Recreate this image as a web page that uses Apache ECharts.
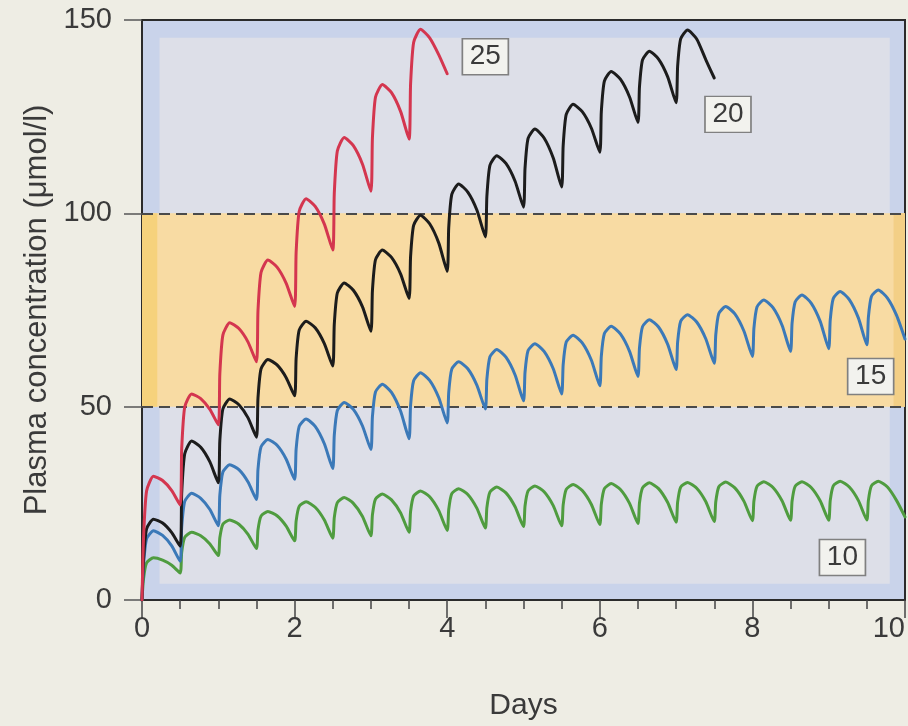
<!DOCTYPE html>
<html>
<head>
<meta charset="utf-8">
<script src="https://cdn.jsdelivr.net/npm/echarts@6/dist/echarts.min.js"></script>
<style>
  html, body { margin: 0; padding: 0; background: #eeede4; }
  #chart { width: 908px; height: 726px; }
</style>
</head>
<body>
<div id="chart"></div>
<script>
// dosing every 12 h; each row = one dosing interval
// at times dose + sampleOffsets: trough, steep rise, shoulder, peak, early fall, mid fall
const sampleOffsets = [0, 0.02, 0.06, 0.15, 0.27, 0.39];
const doseStep = 0.5;

const green = [
  [0, 5.5, 9.6, 10.9, 10.3, 9.0],
  [7.0, 12.3, 16.2, 17.5, 16.6, 14.5],
  [11.5, 16.1, 19.6, 20.7, 19.6, 17.0],
  [13.3, 18.1, 21.7, 22.9, 21.8, 19.1],
  [15.3, 20.4, 24.2, 25.4, 24.0, 20.7],
  [16.0, 21.3, 25.2, 26.5, 25.0, 21.6],
  [16.6, 22.0, 26.1, 27.4, 25.9, 22.5],
  [17.5, 22.9, 26.9, 28.2, 26.7, 23.1],
  [18.0, 23.4, 27.5, 28.8, 27.3, 23.7],
  [18.6, 23.9, 27.9, 29.2, 27.7, 24.1],
  [19.0, 24.3, 28.2, 29.5, 28.0, 24.4],
  [19.2, 24.6, 28.6, 29.9, 28.3, 24.7],
  [19.5, 24.8, 28.8, 30.1, 28.6, 25.0],
  [19.8, 25.1, 29.0, 30.3, 28.8, 25.2],
  [20.1, 25.3, 29.2, 30.4, 28.9, 25.4],
  [20.3, 25.4, 29.3, 30.5, 29.0, 25.5],
  [20.5, 25.6, 29.4, 30.6, 29.1, 25.6],
  [20.6, 25.6, 29.4, 30.6, 29.1, 25.6],
  [20.6, 25.7, 29.5, 30.7, 29.2, 25.7],
  [20.7, 25.7, 29.5, 30.7, 29.2, 25.7]
];
const greenEnd = [10, 21.5];

const blue = [
  [0, 9.0, 15.8, 17.9, 16.7, 14.0],
  [10.0, 18.8, 25.5, 27.6, 26.3, 23.4],
  [19.2, 27.1, 33.1, 35.0, 33.7, 30.5],
  [26.0, 33.8, 39.6, 41.5, 40.0, 36.4],
  [31.2, 39.0, 44.9, 46.8, 44.9, 40.4],
  [34.0, 42.6, 49.0, 51.1, 49.3, 45.0],
  [38.9, 47.4, 53.8, 55.8, 53.7, 48.8],
  [41.7, 50.3, 56.7, 58.8, 56.8, 52.3],
  [45.8, 53.7, 59.7, 61.6, 59.8, 55.5],
  [49.4, 57.1, 62.9, 64.8, 62.8, 58.2],
  [51.5, 58.9, 64.5, 66.3, 64.3, 59.8],
  [53.3, 60.9, 66.7, 68.5, 66.5, 62.0],
  [55.4, 63.1, 68.9, 70.8, 68.8, 64.3],
  [57.8, 65.2, 70.7, 72.5, 70.6, 66.1],
  [59.6, 66.7, 72.1, 73.8, 71.9, 67.5],
  [61.2, 68.6, 74.1, 75.9, 74.0, 69.5],
  [63.0, 70.3, 75.8, 77.6, 75.6, 71.0],
  [64.3, 71.6, 77.1, 78.9, 76.8, 72.0],
  [65.0, 72.4, 78.0, 79.8, 77.7, 72.9],
  [66.0, 73.1, 78.5, 80.2, 78.1, 73.6]
];
const blueEnd = [10, 67.5];

const black = [
  [0, 10.5, 18.4, 20.9, 19.9, 17.4],
  [13.9, 27.5, 37.8, 41.1, 39.5, 35.7],
  [30.3, 41.2, 49.4, 52.0, 50.5, 47.1],
  [42.1, 52.2, 59.8, 62.2, 60.8, 57.5],
  [52.8, 62.5, 69.8, 72.1, 70.4, 66.3],
  [60.5, 71.3, 79.4, 82.0, 80.1, 75.8],
  [69.5, 80.0, 88.0, 90.5, 88.6, 84.3],
  [78.0, 88.8, 96.9, 99.5, 97.3, 92.3],
  [85.0, 96.3, 104.9, 107.6, 105.5, 100.8],
  [93.9, 104.4, 112.4, 114.9, 112.9, 108.3],
  [101.6, 111.7, 119.4, 121.8, 119.5, 114.3],
  [106.8, 117.5, 125.6, 128.2, 126.3, 122.0],
  [115.8, 126.3, 134.2, 136.7, 134.7, 130.1],
  [123.5, 132.7, 139.7, 141.9, 139.9, 135.3],
  [128.6, 138.0, 145.1, 147.4, 145.1, 139.7]
];
const blackEnd = [7.5, 135.0];

const red = [
  [0, 16.0, 28.2, 32.0, 30.9, 28.3],
  [24.6, 39.0, 49.9, 53.3, 52.1, 49.3],
  [45.3, 58.5, 68.5, 71.7, 70.2, 66.7],
  [61.6, 74.8, 84.7, 87.9, 86.1, 81.9],
  [75.9, 89.9, 100.5, 103.8, 101.8, 97.2],
  [90.5, 105.1, 116.1, 119.6, 117.5, 112.7],
  [105.7, 119.5, 130.0, 133.3, 131.2, 126.3],
  [119.2, 133.4, 144.2, 147.6, 145.4, 141.0]
];
const redEnd = [4.0, 136.1];

// dose labels and where their boxes sit, in data units
const doseNames = ['10', '15', '20', '25'];
const labelSpots = [[9.18, 11.0], [9.55, 57.8], [7.68, 125.6], [4.50, 140.5]];

const FONT = '"Liberation Sans", Arial, sans-serif';
const TXT = '#3a3a3a';

function buildCurve(rows, end) {
  const pts = [];
  rows.forEach((row, k) => {
    row.forEach((v, j) => pts.push([k * doseStep + sampleOffsets[j], v]));
  });
  pts.push(end);
  return pts;
}

function curveSeries(name, rows, end, color, idx) {
  return {
    name: name,
    type: 'line',
    data: buildCurve(rows, end),
    showSymbol: false,
    symbol: 'none',
    smooth: 0.2,
    z: 5,
    lineStyle: { color: color, width: 3, join: 'round', cap: 'round' },
    markPoint: {
      symbol: 'rect',
      symbolSize: [46, 36],
      silent: true,
      itemStyle: { color: '#f2f2ee', borderColor: '#808080', borderWidth: 1.5 },
      label: { show: true, position: 'inside', formatter: name, color: TXT, fontSize: 28, fontFamily: FONT },
      data: [{ coord: labelSpots[idx] }]
    }
  };
}

const chart = echarts.init(document.getElementById('chart'));
chart.setOption({
  animation: false,
  backgroundColor: '#eeede4',
  grid: {
    left: 142, right: 2, top: 20, bottom: 122,
    show: true, backgroundColor: '#c9d3ea', borderColor: '#2b2b2b', borderWidth: 2
  },
  xAxis: {
    type: 'value', min: 0, max: 10, interval: 2,
    name: 'Days', nameLocation: 'middle', nameGap: 91,
    nameTextStyle: { color: TXT, fontSize: 30, fontFamily: FONT },
    axisLine: { lineStyle: { color: '#2b2b2b', width: 2 } },
    axisTick: { length: 18, lineStyle: { color: '#444', width: 1.5 } },
    minorTick: { show: true, splitNumber: 4, length: 9, lineStyle: { color: '#444', width: 1.5 } },
    axisLabel: { color: TXT, fontSize: 29, fontFamily: FONT, margin: 14, alignMaxLabel: 'right' },
    splitLine: { show: false }
  },
  yAxis: {
    type: 'value', min: 0, max: 150, interval: 50,
    name: 'Plasma concentration (μmol/l)', nameLocation: 'middle', nameGap: 80,
    nameTextStyle: { color: TXT, fontSize: 31, fontFamily: FONT },
    axisLine: { show: true, lineStyle: { color: '#2b2b2b', width: 2 } },
    axisTick: { show: true, length: 18, lineStyle: { color: '#555', width: 1.5 } },
    axisLabel: { color: TXT, fontSize: 29, fontFamily: FONT, margin: 30 },
    splitLine: { show: false }
  },
  series: [
    {
      type: 'line',
      data: [],
      z: 1,
      silent: true,
      markArea: {
        silent: true,
        data: [
          [{ xAxis: 0.23, yAxis: 4.2, itemStyle: { color: '#dddfe8' } }, { xAxis: 9.8, yAxis: 145.4 }],
          [{ xAxis: 0, yAxis: 50, itemStyle: { color: '#f8dba3' } }, { xAxis: 10, yAxis: 100 }],
          [{ xAxis: 0, yAxis: 50, itemStyle: { color: '#f6d27c' } }, { xAxis: 0.2, yAxis: 100 }],
          [{ xAxis: 9.85, yAxis: 50, itemStyle: { color: '#f3cf86' } }, { xAxis: 10, yAxis: 100 }]
        ]
      },
      markLine: {
        silent: true,
        symbol: ['none', 'none'],
        label: { show: false },
        lineStyle: { type: [11, 6], color: '#4a4a4a', width: 2 },
        data: [{ yAxis: 50 }, { yAxis: 100 }]
      }
    },
    curveSeries(doseNames[0], green, greenEnd, '#4f9c3f', 0),
    curveSeries(doseNames[1], blue, blueEnd, '#3b79b8', 1),
    curveSeries(doseNames[2], black, blackEnd, '#1c1c1c', 2),
    curveSeries(doseNames[3], red, redEnd, '#d4364f', 3)
  ]
});
</script>
</body>
</html>
